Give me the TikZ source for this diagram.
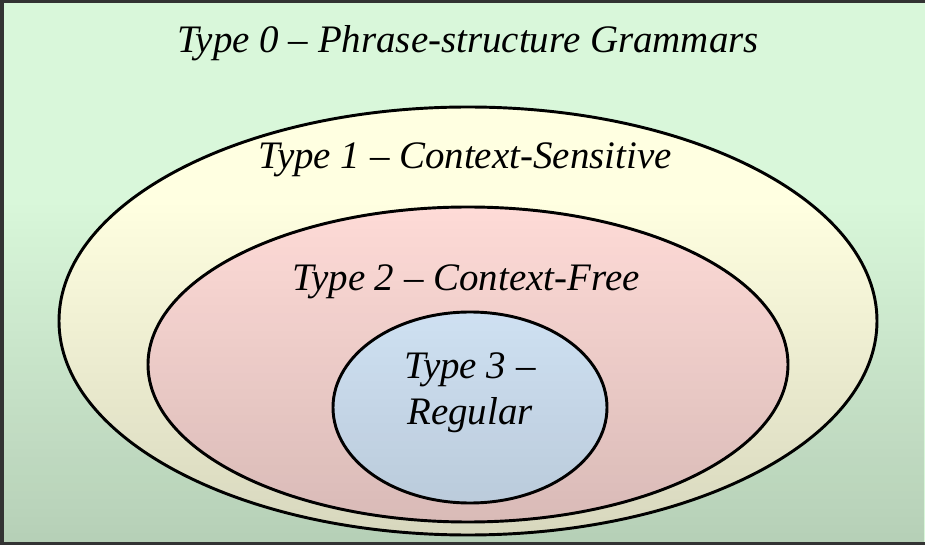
\documentclass[tikz,border=0pt]{standalone}
\usepackage{fontspec}
\setmainfont{Liberation Serif}
\usetikzlibrary{positioning,fadings}
\usepackage{xcolor}

\definecolor{typezero}{RGB}{217,247,218}
\definecolor{typeone}{RGB}{255,255,225}
\definecolor{typetwo}{RGB}{255,220,216}
\definecolor{typethree}{RGB}{218,237,255}

\tikzset{
  grammar/.style={draw=black, line width=2.2},
  label/.style={font=\itshape\fontsize{29.2}{35}\selectfont, align=center, inner sep=0pt}
}

\begin{document}
\begin{tikzpicture}[x=0.75pt,y=0.75pt,yscale=-1,xscale=1]
	\useasboundingbox (0,0) rectangle (925,545);
	
	%Shape: Rectangle [background]
	\fill [typezero] (0,0) rectangle (925,545);
	
	%Shape: Ellipse [type 1]
	\draw [grammar, fill=typeone] (468,321) ellipse (409 and 214);
	%Shape: Ellipse [type 2]
	\draw [grammar, fill=typetwo] (468,364.5) ellipse (320 and 157.5);
	%Shape: Ellipse [type 3]
	\draw [grammar, fill=typethree] (470,407.5) ellipse (137 and 95.5);
	
	%Shape: Rectangle [shadow]
	\fill [black, opacity=0.16, path fading=north] (0,200) rectangle (925,545);
	
	%Straight Lines [frame]
	\draw [line width=2.5, black!80] (925,1) -- (2,1) -- (2,544) -- (925,544) ;
	
	% Text Node
	\node [label] (t0) at (468,43) {Type 0 – Phrase-structure Grammars};
	% Text Node
	\node [label] (t1) at (465,160) {Type 1 – Context-Sensitive};
	% Text Node
	\node [label] (t2) at (466,282) {Type 2 – Context-Free};
	% Text Node
	\node [label] (t3) at (470,370) {Type 3 –};
	% Text Node
	\node [label] (t3b) at (470,415) {Regular};
	
\end{tikzpicture}
\end{document}
